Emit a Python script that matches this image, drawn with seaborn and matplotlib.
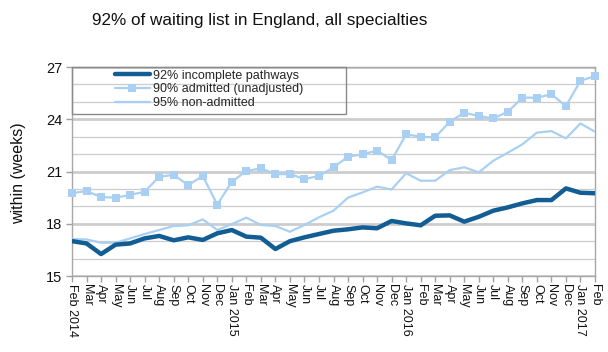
import matplotlib
matplotlib.use("Agg")
import matplotlib.pyplot as plt
import seaborn as sns
import pandas as pd
from matplotlib.patches import Rectangle

sns.set_theme(style="white")
plt.rcParams['font.family'] = ['Liberation Sans', 'DejaVu Sans']

months = ["Feb 2014", "Mar", "Apr", "May", "Jun", "Jul", "Aug", "Sep", "Oct", "Nov", "Dec",
          "Jan 2015", "Feb", "Mar", "Apr", "May", "Jun", "Jul", "Aug", "Sep", "Oct", "Nov", "Dec",
          "Jan 2016", "Feb", "Mar", "Apr", "May", "Jun", "Jul", "Aug", "Sep", "Oct", "Nov", "Dec",
          "Jan 2017", "Feb"]

incomplete = [17.0, 16.87, 16.26, 16.8, 16.87, 17.16, 17.3, 17.05, 17.22, 17.07, 17.45,
              17.64, 17.26, 17.2, 16.55, 17.0, 17.22, 17.41, 17.6, 17.68, 17.79, 17.74, 18.16,
              18.02, 17.91, 18.46, 18.48, 18.12, 18.4, 18.75, 18.94, 19.17, 19.36, 19.36, 20.03,
              19.78, 19.75]

admitted = [19.75, 19.88, 19.53, 19.5, 19.65, 19.84, 20.7, 20.8, 20.22, 20.74, 19.1,
            20.41, 21.03, 21.18, 20.85, 20.85, 20.57, 20.74, 21.24, 21.85, 21.99, 22.2, 21.66,
            23.13, 23.0, 22.96, 23.86, 24.38, 24.18, 24.05, 24.43, 25.24, 25.24, 25.43, 24.76,
            26.21, 26.48]

non_admitted = [17.12, 17.1, 16.91, 16.91, 17.16, 17.41, 17.64, 17.87, 17.91, 18.25, 17.64,
                17.98, 18.35, 17.93, 17.87, 17.54, 17.93, 18.37, 18.75, 19.5, 19.8, 20.13, 19.97,
                20.9, 20.47, 20.47, 21.08, 21.24, 20.95, 21.62, 22.08, 22.56, 23.23, 23.32, 22.9,
                23.76, 23.28]

labels = ["92% incomplete pathways", "90% admitted (unadjusted)", "95% non-admitted"]

dark = "#125d94"
light = "#a9d0f3"

df = pd.DataFrame({"x": range(len(months)), "inc": incomplete, "adm": admitted, "non": non_admitted})

fig = plt.figure(figsize=(6.08, 3.52), dpi=100)
ax = fig.add_axes([72/608, 1-276/352, (595-72)/608, (276-67)/352])

sns.lineplot(data=df, x="x", y="non", ax=ax, color=light, linewidth=1.6, label=labels[2], zorder=3)
sns.lineplot(data=df, x="x", y="adm", ax=ax, color=light, linewidth=1.6, marker="s",
             markersize=5.5, markeredgewidth=0, label=labels[1], zorder=4, clip_on=False)
sns.lineplot(data=df, x="x", y="inc", ax=ax, color=dark, linewidth=3.2, label=labels[0], zorder=5)

ax.set_xlim(0, len(months)-1)
ax.set_ylim(15, 27)
ax.set_yticks([15, 18, 21, 24, 27])
ax.set_yticks(range(15, 28), minor=True)
ax.set_xticks(range(len(months)))
ax.set_xticklabels(months, rotation=-90, ha="center", va="top", fontsize=9, color="#111111")
ax.tick_params(axis="y", labelsize=10.5, labelcolor="#111111", length=4, color="#a0a0a0", width=1, left=True, which="major", pad=3)
ax.tick_params(axis="y", which="minor", length=0)
ax.tick_params(axis="x", length=4, color="#a0a0a0", width=1, bottom=True, pad=2)
ax.set_xlabel("")
ax.set_ylabel("")

ax.grid(True, axis="y", which="minor", color="#cccccc", linewidth=0.9, zorder=0)
ax.grid(True, axis="y", which="major", color="#cdcdcd", linewidth=2.0, zorder=0)
ax.set_axisbelow(True)
for s in ["left", "right", "bottom", "top"]:
    ax.spines[s].set_color("#a8a8a8")
    ax.spines[s].set_linewidth(1.0)

# legend: order as reference
h, l = ax.get_legend_handles_labels()
order = [l.index(t) for t in labels]
leg = ax.legend([h[i] for i in order], [l[i] for i in order], frameon=False,
                loc="upper center", bbox_to_anchor=((346-72)/2/523, 1.0), fontsize=9,
                handlelength=2.8, labelspacing=0.15, borderaxespad=0.0, borderpad=0.2,
                handletextpad=0.3)
ax.add_patch(Rectangle((0, 1-(114-67)/209), (346-72)/523, (114-67)/209, transform=ax.transAxes,
                       fill=False, edgecolor="#8a8a8a", linewidth=1.0, zorder=6, clip_on=False))

fig.text(260/608, 1-20/352, "92% of waiting list in England, all specialties", ha="center", va="center",
         fontsize=12.3, color="#111111")
fig.text(19/608, 1-173/352, "within (weeks)", rotation=90, ha="center", va="center", fontsize=11.5,
         color="#111111")

fig.savefig("out.png", dpi=100)
